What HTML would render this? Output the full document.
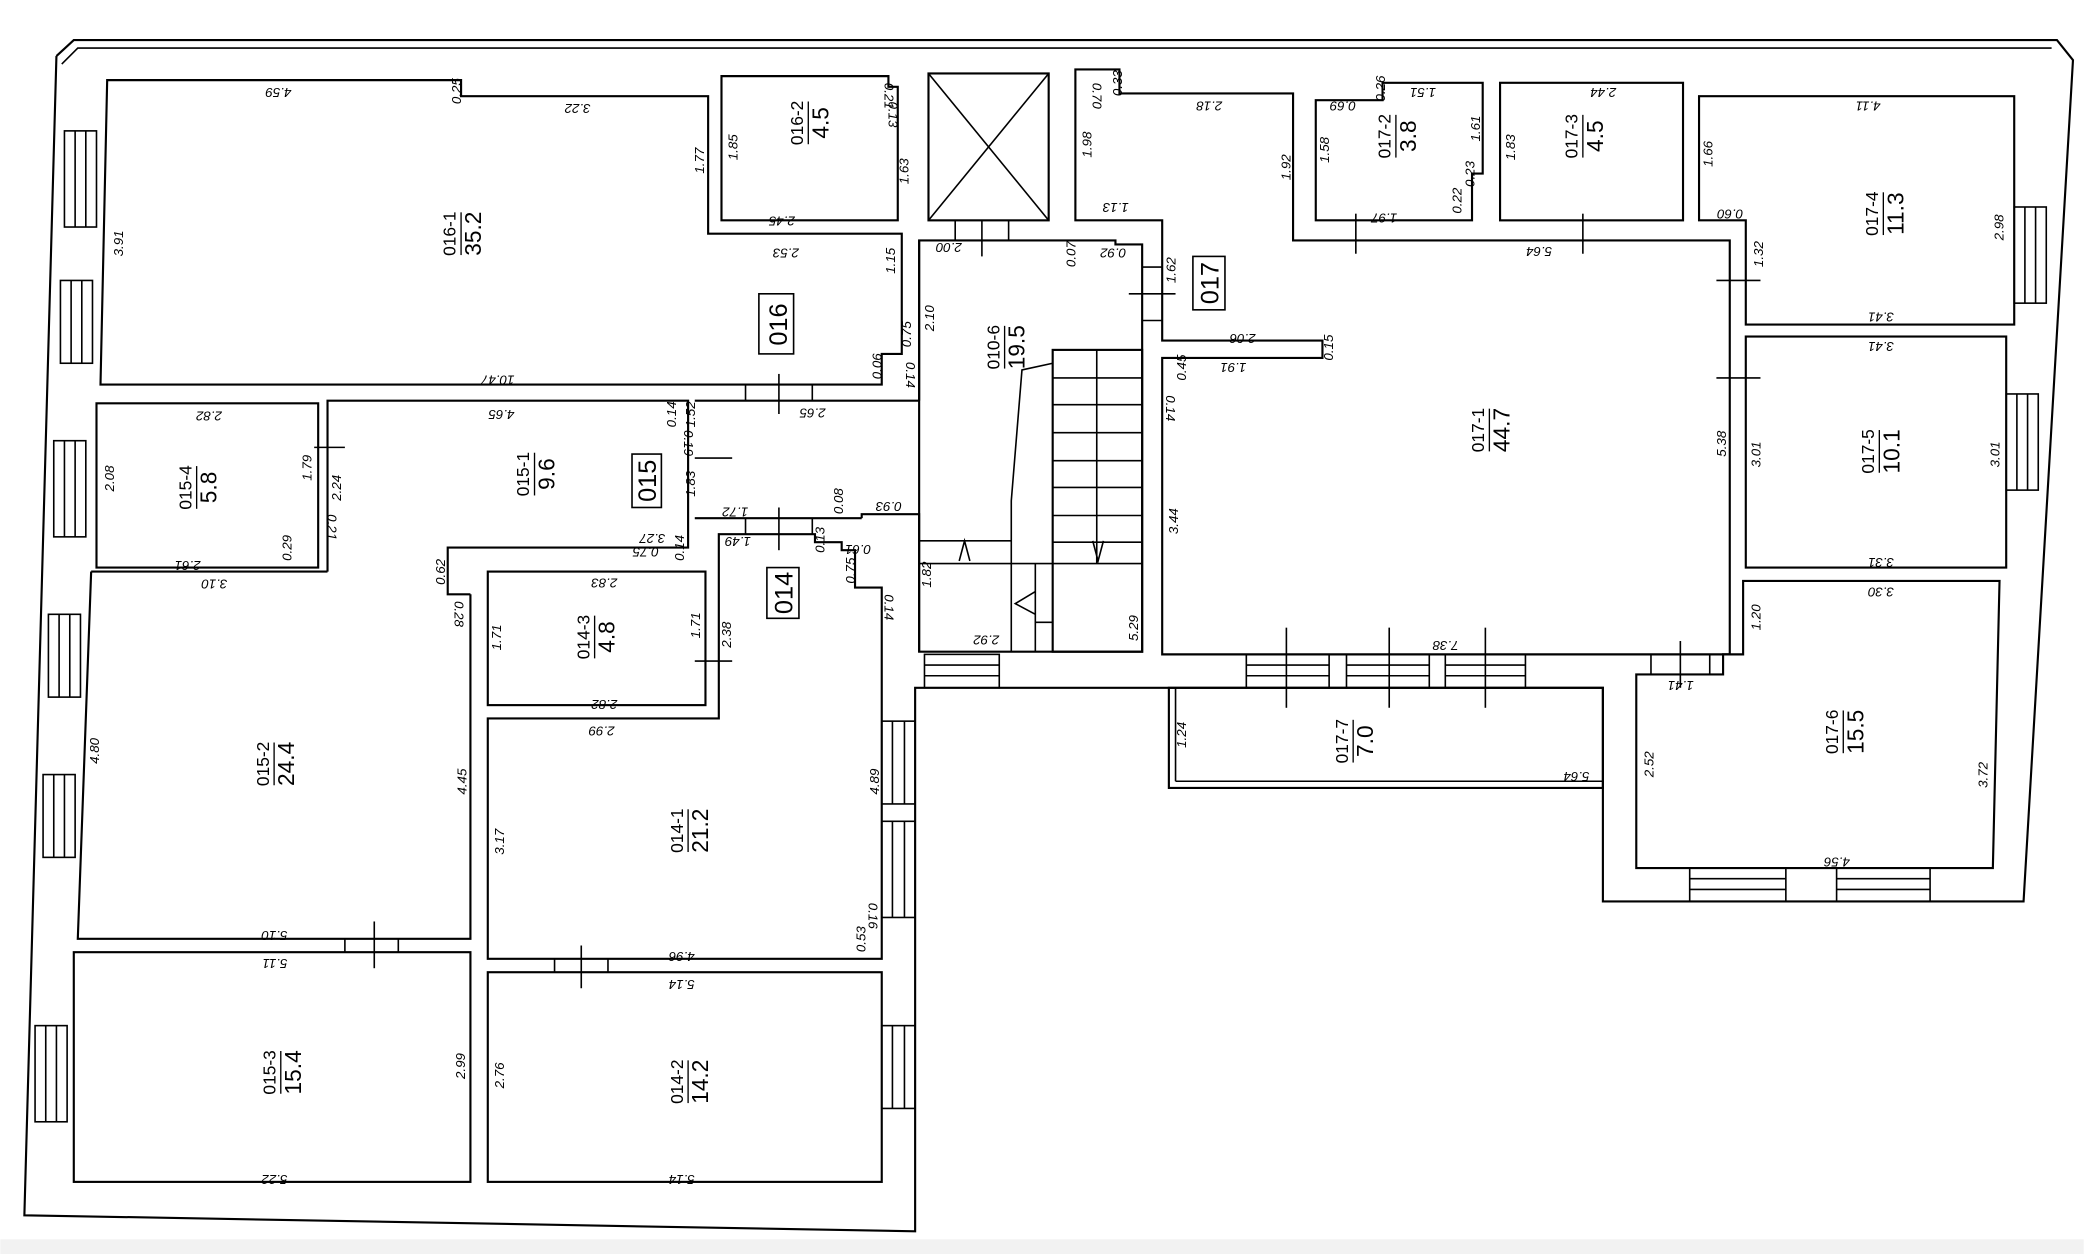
<!DOCTYPE html>
<html><head><meta charset="utf-8"><style>
html,body{margin:0;padding:0;background:#fff;}
svg{display:block}
text{font-family:"Liberation Sans",sans-serif;fill:#000}
.d{font-size:10px;font-style:italic}
.l{stroke:#000;stroke-width:1.6;fill:none}
.t{stroke:#000;stroke-width:1.2;fill:none}
</style></head><body>
<svg width="2084" height="1254" viewBox="0 0 1560 939" xmlns="http://www.w3.org/2000/svg">
<rect x="0" y="928" width="1560" height="11" fill="#f2f2f2"/>
<polyline class="l" points="42,42 55,30 1540,30 1552,45 1515,675 1200,675 1200,515 685,515 685,922 18,910 42,42"/>
<polyline class="t" points="46,48 58,36 1536,36"/>
<polygon class="l" points="80,60 345,60 345,72 530,72 530,175 675,175 675,265 660,265 660,288 75,288"/>
<polygon class="l" points="540,57 665,57 665,65 672,65 672,165 540,165"/>
<rect class="l" x="695" y="55" width="90" height="110"/>
<line class="t" x1="695" y1="55" x2="785" y2="165"/><line class="t" x1="785" y1="55" x2="695" y2="165"/>
<polygon class="l" points="688,180 835,180 835,183 855,183 855,488 688,488"/>
<line class="l" x1="520" y1="300" x2="688" y2="300"/>
<line class="l" x1="688" y1="180" x2="688" y2="300"/>
<line class="l" x1="520" y1="388" x2="645" y2="388"/>
<polyline class="l" points="645,388 645,385 688,385 688,488"/>
<rect class="l" x="788" y="262" width="67" height="226"/>
<line class="t" x1="821" y1="262" x2="821" y2="422"/>
<g class="t">
<line x1="788" y1="283" x2="855" y2="283"/><line x1="788" y1="303" x2="855" y2="303"/><line x1="788" y1="324" x2="855" y2="324"/><line x1="788" y1="345" x2="855" y2="345"/><line x1="788" y1="365" x2="855" y2="365"/><line x1="788" y1="386" x2="855" y2="386"/><line x1="788" y1="406" x2="855" y2="406"/><line x1="788" y1="422" x2="855" y2="422"/>
</g>
<polyline class="t" points="788,272 765,277 757,375 757,488"/>
<line class="t" x1="688" y1="405" x2="757" y2="405"/><line class="t" x1="688" y1="422" x2="788" y2="422"/>
<line class="t" x1="775" y1="422" x2="775" y2="488"/><line class="t" x1="775" y1="466" x2="788" y2="466"/>
<polyline class="t" points="818,405 822,420 826,405"/>
<polyline class="t" points="718,420 722,405 726,420"/>
<polyline class="t" points="775,443 760,452 775,460"/>
<polygon class="l" points="805,52 838,52 838,70 968,70 968,180 1295,180 1295,490 870,490 870,268 990,268 990,255 870,255 870,165 805,165"/>
<polygon class="l" points="985,75 1035,75 1035,62 1110,62 1110,130 1102,130 1102,165 985,165"/>
<rect class="l" x="1123" y="62" width="137" height="103"/>
<polygon class="l" points="1272,72 1508,72 1508,243 1307,243 1307,165 1272,165"/>
<rect class="l" x="1307" y="252" width="195" height="173"/>
<polygon class="l" points="1305,435 1497,435 1492,650 1225,650 1225,505 1290,505 1290,490 1305,490"/>
<polygon class="l" points="875,515 1200,515 1200,590 875,590"/>
<line class="t" x1="880" y1="515" x2="880" y2="585"/><line class="t" x1="880" y1="585" x2="1200" y2="585"/>
<polyline class="l" points="245,428 245,300 515,300 515,410 335,410 335,445 352,445"/>
<polygon class="l" points="72,302 238,302 238,425 72,425"/>
<line class="l" x1="68" y1="428" x2="245" y2="428"/>
<polyline class="l" points="68,428 58,703 352,703 352,445"/>
<rect class="l" x="55" y="713" width="297" height="172"/>
<rect class="l" x="365" y="428" width="163" height="100"/>
<polygon class="l" points="365,538 538,538 538,400 610,400 610,406 630,406 630,412 640,412 640,440 660,440 660,718 365,718"/>
<rect class="l" x="365" y="728" width="295" height="157"/>
<g class="t">
<rect x="48" y="98" width="24" height="72"/><line x1="56" y1="98" x2="56" y2="170"/><line x1="64" y1="98" x2="64" y2="170"/>
<rect x="45" y="210" width="24" height="62"/><line x1="53" y1="210" x2="53" y2="272"/><line x1="61" y1="210" x2="61" y2="272"/>
<rect x="40" y="330" width="24" height="72"/><line x1="48" y1="330" x2="48" y2="402"/><line x1="56" y1="330" x2="56" y2="402"/>
<rect x="36" y="460" width="24" height="62"/><line x1="44" y1="460" x2="44" y2="522"/><line x1="52" y1="460" x2="52" y2="522"/>
<rect x="32" y="580" width="24" height="62"/><line x1="40" y1="580" x2="40" y2="642"/><line x1="48" y1="580" x2="48" y2="642"/>
<rect x="26" y="768" width="24" height="72"/><line x1="34" y1="768" x2="34" y2="840"/><line x1="42" y1="768" x2="42" y2="840"/>
<rect x="660" y="540" width="25" height="62"/><line x1="668" y1="540" x2="668" y2="602"/><line x1="677" y1="540" x2="677" y2="602"/>
<rect x="660" y="615" width="25" height="72"/><line x1="668" y1="615" x2="668" y2="687"/><line x1="677" y1="615" x2="677" y2="687"/>
<rect x="660" y="768" width="25" height="62"/><line x1="668" y1="768" x2="668" y2="830"/><line x1="677" y1="768" x2="677" y2="830"/>
<rect x="1508" y="155" width="24" height="72"/><line x1="1516" y1="155" x2="1516" y2="227"/><line x1="1524" y1="155" x2="1524" y2="227"/>
<rect x="1502" y="295" width="24" height="72"/><line x1="1510" y1="295" x2="1510" y2="367"/><line x1="1518" y1="295" x2="1518" y2="367"/>
<rect x="1265" y="650" width="72" height="25"/><line x1="1265" y1="658" x2="1337" y2="658"/><line x1="1265" y1="666" x2="1337" y2="666"/>
<rect x="1375" y="650" width="70" height="25"/><line x1="1375" y1="658" x2="1445" y2="658"/><line x1="1375" y1="666" x2="1445" y2="666"/>
<rect x="933" y="490" width="62" height="25"/><line x1="933" y1="498" x2="995" y2="498"/><line x1="933" y1="506" x2="995" y2="506"/>
<rect x="1008" y="490" width="62" height="25"/><line x1="1008" y1="498" x2="1070" y2="498"/><line x1="1008" y1="506" x2="1070" y2="506"/>
<rect x="1082" y="490" width="60" height="25"/><line x1="1082" y1="498" x2="1142" y2="498"/><line x1="1082" y1="506" x2="1142" y2="506"/>
<rect x="692" y="490" width="56" height="25"/><line x1="692" y1="498" x2="748" y2="498"/><line x1="692" y1="506" x2="748" y2="506"/>
</g>
<g class="t">
<line x1="583" y1="280" x2="583" y2="310"/><line x1="558" y1="288" x2="558" y2="300"/><line x1="608" y1="288" x2="608" y2="300"/>
<line x1="583" y1="380" x2="583" y2="412"/><line x1="558" y1="388" x2="558" y2="400"/><line x1="608" y1="388" x2="608" y2="400"/>
<line x1="735" y1="165" x2="735" y2="192"/><line x1="715" y1="165" x2="715" y2="180"/><line x1="755" y1="165" x2="755" y2="180"/>
<line x1="1015" y1="160" x2="1015" y2="190"/><line x1="1185" y1="160" x2="1185" y2="190"/>
<line x1="845" y1="220" x2="880" y2="220"/><line x1="855" y1="200" x2="870" y2="200"/><line x1="855" y1="240" x2="870" y2="240"/>
<line x1="1285" y1="210" x2="1318" y2="210"/><line x1="1285" y1="283" x2="1318" y2="283"/>
<line x1="235" y1="335" x2="258" y2="335"/><line x1="520" y1="343" x2="548" y2="343"/>
<line x1="520" y1="495" x2="548" y2="495"/>
<line x1="280" y1="690" x2="280" y2="725"/><line x1="258" y1="703" x2="258" y2="713"/><line x1="298" y1="703" x2="298" y2="713"/>
<line x1="435" y1="708" x2="435" y2="740"/><line x1="415" y1="718" x2="415" y2="728"/><line x1="455" y1="718" x2="455" y2="728"/>
<line x1="963" y1="470" x2="963" y2="530"/><line x1="1040" y1="470" x2="1040" y2="530"/><line x1="1112" y1="470" x2="1112" y2="530"/>
<line x1="1258" y1="480" x2="1258" y2="515"/><line x1="1236" y1="490" x2="1236" y2="505"/><line x1="1280" y1="490" x2="1280" y2="505"/>
</g>
<g class="t">
<rect x="568" y="220" width="26" height="45"/><rect x="473" y="340" width="22" height="40"/><rect x="574" y="425" width="24" height="38"/><rect x="893" y="192" width="24" height="40"/>
</g>
<g font-size="19">
<text transform="translate(589,243) rotate(-90)" text-anchor="middle">016</text>
<text transform="translate(491,360) rotate(-90)" text-anchor="middle">015</text>
<text transform="translate(593,444) rotate(-90)" text-anchor="middle">014</text>
<text transform="translate(912,212) rotate(-90)" text-anchor="middle">017</text>
</g>
<g font-size="13">
<g transform="translate(345,175) rotate(-90)"><text x="0" y="-4" text-anchor="middle">016-1</text><line x1="-16" y1="0" x2="16" y2="0" stroke="#000"/><text x="0" y="15" text-anchor="middle" font-size="17">35.2</text></g>
<g transform="translate(605,92) rotate(-90)"><text x="0" y="-4" text-anchor="middle">016-2</text><line x1="-16" y1="0" x2="16" y2="0" stroke="#000"/><text x="0" y="15" text-anchor="middle" font-size="17">4.5</text></g>
<g transform="translate(752,260) rotate(-90)"><text x="0" y="-4" text-anchor="middle">010-6</text><line x1="-16" y1="0" x2="16" y2="0" stroke="#000"/><text x="0" y="15" text-anchor="middle" font-size="17">19.5</text></g>
<g transform="translate(1045,102) rotate(-90)"><text x="0" y="-4" text-anchor="middle">017-2</text><line x1="-16" y1="0" x2="16" y2="0" stroke="#000"/><text x="0" y="15" text-anchor="middle" font-size="17">3.8</text></g>
<g transform="translate(1185,102) rotate(-90)"><text x="0" y="-4" text-anchor="middle">017-3</text><line x1="-16" y1="0" x2="16" y2="0" stroke="#000"/><text x="0" y="15" text-anchor="middle" font-size="17">4.5</text></g>
<g transform="translate(1410,160) rotate(-90)"><text x="0" y="-4" text-anchor="middle">017-4</text><line x1="-16" y1="0" x2="16" y2="0" stroke="#000"/><text x="0" y="15" text-anchor="middle" font-size="17">11.3</text></g>
<g transform="translate(1115,322) rotate(-90)"><text x="0" y="-4" text-anchor="middle">017-1</text><line x1="-16" y1="0" x2="16" y2="0" stroke="#000"/><text x="0" y="15" text-anchor="middle" font-size="17">44.7</text></g>
<g transform="translate(1407,338) rotate(-90)"><text x="0" y="-4" text-anchor="middle">017-5</text><line x1="-16" y1="0" x2="16" y2="0" stroke="#000"/><text x="0" y="15" text-anchor="middle" font-size="17">10.1</text></g>
<g transform="translate(1380,548) rotate(-90)"><text x="0" y="-4" text-anchor="middle">017-6</text><line x1="-16" y1="0" x2="16" y2="0" stroke="#000"/><text x="0" y="15" text-anchor="middle" font-size="17">15.5</text></g>
<g transform="translate(1013,555) rotate(-90)"><text x="0" y="-4" text-anchor="middle">017-7</text><line x1="-16" y1="0" x2="16" y2="0" stroke="#000"/><text x="0" y="15" text-anchor="middle" font-size="17">7.0</text></g>
<g transform="translate(147,365) rotate(-90)"><text x="0" y="-4" text-anchor="middle">015-4</text><line x1="-16" y1="0" x2="16" y2="0" stroke="#000"/><text x="0" y="15" text-anchor="middle" font-size="17">5.8</text></g>
<g transform="translate(400,355) rotate(-90)"><text x="0" y="-4" text-anchor="middle">015-1</text><line x1="-16" y1="0" x2="16" y2="0" stroke="#000"/><text x="0" y="15" text-anchor="middle" font-size="17">9.6</text></g>
<g transform="translate(205,572) rotate(-90)"><text x="0" y="-4" text-anchor="middle">015-2</text><line x1="-16" y1="0" x2="16" y2="0" stroke="#000"/><text x="0" y="15" text-anchor="middle" font-size="17">24.4</text></g>
<g transform="translate(210,803) rotate(-90)"><text x="0" y="-4" text-anchor="middle">015-3</text><line x1="-16" y1="0" x2="16" y2="0" stroke="#000"/><text x="0" y="15" text-anchor="middle" font-size="17">15.4</text></g>
<g transform="translate(445,477) rotate(-90)"><text x="0" y="-4" text-anchor="middle">014-3</text><line x1="-16" y1="0" x2="16" y2="0" stroke="#000"/><text x="0" y="15" text-anchor="middle" font-size="17">4.8</text></g>
<g transform="translate(515,622) rotate(-90)"><text x="0" y="-4" text-anchor="middle">014-1</text><line x1="-16" y1="0" x2="16" y2="0" stroke="#000"/><text x="0" y="15" text-anchor="middle" font-size="17">21.2</text></g>
<g transform="translate(515,810) rotate(-90)"><text x="0" y="-4" text-anchor="middle">014-2</text><line x1="-16" y1="0" x2="16" y2="0" stroke="#000"/><text x="0" y="15" text-anchor="middle" font-size="17">14.2</text></g>
</g>
<g class="d">
<text transform="translate(218,66) rotate(180)">4.59</text>
<text transform="translate(345,78) rotate(-90)">0.25</text>
<text transform="translate(442,78) rotate(180)">3.22</text>
<text transform="translate(527,130) rotate(-90)">1.77</text>
<text transform="translate(92,192) rotate(-90)">3.91</text>
<text transform="translate(385,281) rotate(180)">10.47</text>
<text transform="translate(670,205) rotate(-90)">1.15</text>
<text transform="translate(682,260) rotate(-90)">0.75</text>
<text transform="translate(660,284) rotate(-90)">0.06</text>
<text transform="translate(678,271) rotate(90)">0.14</text>
<text transform="translate(552,120) rotate(-90)">1.85</text>
<text transform="translate(662,62) rotate(90)">0.21</text>
<text transform="translate(665,76) rotate(90)">0.13</text>
<text transform="translate(680,138) rotate(-90)">1.63</text>
<text transform="translate(595,162) rotate(180)">2.45</text>
<text transform="translate(598,186) rotate(180)">2.53</text>
<text transform="translate(720,182) rotate(180)">2.00</text>
<text transform="translate(805,200) rotate(-90)">0.07</text>
<text transform="translate(843,186) rotate(180)">0.92</text>
<text transform="translate(699,248) rotate(-90)">2.10</text>
<text transform="translate(880,212) rotate(-90)">1.62</text>
<text transform="translate(618,306) rotate(180)">2.65</text>
<text transform="translate(520,320) rotate(-90)">1.52</text>
<text transform="translate(520,372) rotate(-90)">1.83</text>
<text transform="translate(560,380) rotate(180)">1.72</text>
<text transform="translate(631,385) rotate(-90)">0.08</text>
<text transform="translate(675,376) rotate(180)">0.93</text>
<text transform="translate(562,402) rotate(180)">1.49</text>
<text transform="translate(617,414) rotate(-90)">0.13</text>
<text transform="translate(652,408) rotate(180)">0.61</text>
<text transform="translate(640,437) rotate(-90)">0.75</text>
<text transform="translate(662,445) rotate(90)">0.14</text>
<text transform="translate(697,440) rotate(-90)">1.82</text>
<text transform="translate(748,476) rotate(180)">2.92</text>
<text transform="translate(852,480) rotate(-90)">5.29</text>
<text transform="translate(818,62) rotate(90)">0.70</text>
<text transform="translate(840,72) rotate(-90)">0.33</text>
<text transform="translate(915,76) rotate(180)">2.18</text>
<text transform="translate(817,118) rotate(-90)">1.98</text>
<text transform="translate(845,152) rotate(180)">1.13</text>
<text transform="translate(966,135) rotate(-90)">1.92</text>
<text transform="translate(940,250) rotate(180)">2.06</text>
<text transform="translate(933,272) rotate(180)">1.91</text>
<text transform="translate(998,270) rotate(-90)">0.15</text>
<text transform="translate(888,285) rotate(-90)">0.45</text>
<text transform="translate(873,296) rotate(90)">0.14</text>
<text transform="translate(882,400) rotate(-90)">3.44</text>
<text transform="translate(1092,480) rotate(180)">7.38</text>
<text transform="translate(995,122) rotate(-90)">1.58</text>
<text transform="translate(1015,76) rotate(180)">0.69</text>
<text transform="translate(1037,76) rotate(-90)">0.26</text>
<text transform="translate(1075,66) rotate(180)">1.51</text>
<text transform="translate(1108,106) rotate(-90)">1.61</text>
<text transform="translate(1094,160) rotate(-90)">0.22</text>
<text transform="translate(1104,140) rotate(-90)">0.23</text>
<text transform="translate(1046,160) rotate(180)">1.97</text>
<text transform="translate(1162,185) rotate(180)">5.64</text>
<text transform="translate(1134,120) rotate(-90)">1.83</text>
<text transform="translate(1210,66) rotate(180)">2.44</text>
<text transform="translate(1408,76) rotate(180)">4.11</text>
<text transform="translate(1282,125) rotate(-90)">1.66</text>
<text transform="translate(1305,157) rotate(180)">0.60</text>
<text transform="translate(1320,200) rotate(-90)">1.32</text>
<text transform="translate(1500,180) rotate(-90)">2.98</text>
<text transform="translate(1418,234) rotate(180)">3.41</text>
<text transform="translate(1418,256) rotate(180)">3.41</text>
<text transform="translate(1292,342) rotate(-90)">5.38</text>
<text transform="translate(1318,350) rotate(-90)">3.01</text>
<text transform="translate(1497,350) rotate(-90)">3.01</text>
<text transform="translate(1418,418) rotate(180)">3.31</text>
<text transform="translate(1418,440) rotate(180)">3.30</text>
<text transform="translate(1318,472) rotate(-90)">1.20</text>
<text transform="translate(1268,510) rotate(180)">1.41</text>
<text transform="translate(1238,582) rotate(-90)">2.52</text>
<text transform="translate(1488,590) rotate(-90)">3.72</text>
<text transform="translate(1385,642) rotate(180)">4.56</text>
<text transform="translate(888,560) rotate(-90)">1.24</text>
<text transform="translate(1190,578) rotate(180)">5.64</text>
<text transform="translate(166,308) rotate(180)">2.82</text>
<text transform="translate(85,368) rotate(-90)">2.08</text>
<text transform="translate(233,360) rotate(-90)">1.79</text>
<text transform="translate(255,375) rotate(-90)">2.24</text>
<text transform="translate(245,385) rotate(90)">0.21</text>
<text transform="translate(218,420) rotate(-90)">0.29</text>
<text transform="translate(150,420) rotate(180)">2.61</text>
<text transform="translate(385,307) rotate(180)">4.65</text>
<text transform="translate(506,320) rotate(-90)">0.14</text>
<text transform="translate(512,322) rotate(90)">0.19</text>
<text transform="translate(498,400) rotate(180)">3.27</text>
<text transform="translate(493,410) rotate(180)">0.75</text>
<text transform="translate(512,420) rotate(-90)">0.14</text>
<text transform="translate(170,434) rotate(180)">3.10</text>
<text transform="translate(333,438) rotate(-90)">0.62</text>
<text transform="translate(340,450) rotate(90)">0.28</text>
<text transform="translate(74,572) rotate(-90)">4.80</text>
<text transform="translate(349,595) rotate(-90)">4.45</text>
<text transform="translate(215,697) rotate(180)">5.10</text>
<text transform="translate(215,718) rotate(180)">5.11</text>
<text transform="translate(348,808) rotate(-90)">2.99</text>
<text transform="translate(215,880) rotate(180)">5.22</text>
<text transform="translate(462,433) rotate(180)">2.83</text>
<text transform="translate(375,487) rotate(-90)">1.71</text>
<text transform="translate(524,478) rotate(-90)">1.71</text>
<text transform="translate(547,485) rotate(-90)">2.38</text>
<text transform="translate(462,524) rotate(180)">2.82</text>
<text transform="translate(460,544) rotate(180)">2.99</text>
<text transform="translate(658,595) rotate(-90)">4.89</text>
<text transform="translate(377,640) rotate(-90)">3.17</text>
<text transform="translate(650,676) rotate(90)">0.16</text>
<text transform="translate(648,713) rotate(-90)">0.53</text>
<text transform="translate(520,713) rotate(180)">4.96</text>
<text transform="translate(520,734) rotate(180)">5.14</text>
<text transform="translate(377,815) rotate(-90)">2.76</text>
<text transform="translate(520,880) rotate(180)">5.14</text>
</g>
</svg>
</body></html>
